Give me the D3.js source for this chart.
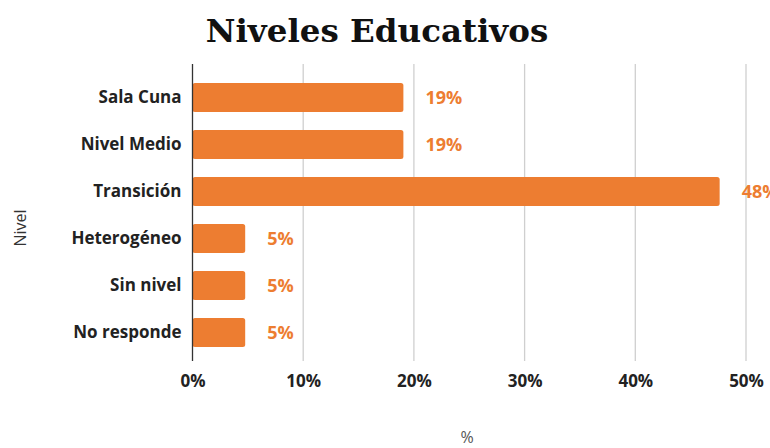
<!DOCTYPE html>
<html><head><meta charset="utf-8">
<script src="https://cdn.jsdelivr.net/npm/d3@7"></script>
<style>body{margin:0;background:#fff;}svg{display:block;}</style>
</head><body>
<svg id="chart" width="770" height="448"></svg>
<script>
const categories = ["Sala Cuna","Nivel Medio","Transición","Heterogéneo","Sin nivel","No responde"];
const values = [19.05, 19.05, 47.62, 4.76, 4.76, 4.76];
const tickValues = [0, 10, 20, 30, 40, 50];
const title = "Niveles Educativos";
const xTitle = "%";
const yTitle = "Nivel";

const svg = d3.select("#chart");
const x = d3.scaleLinear().domain([0, 50]).range([192.5, 746]);
const y = d3.scaleBand().domain(categories).range([74, 356]).paddingInner(0.38).paddingOuter(0.19);
const orange = "#ED7D31";
const font = "'Open Sans', 'Segoe UI', sans-serif";

// gridlines
svg.append("g").selectAll("line").data(tickValues.slice(1)).join("line")
  .attr("x1", d => x(d)).attr("x2", d => x(d))
  .attr("y1", 64).attr("y2", 361)
  .attr("stroke", "#cfcfcf").attr("stroke-width", 1.3);

// bars
svg.append("g").selectAll("rect").data(categories).join("rect")
  .attr("x", x(0))
  .attr("y", d => y(d))
  .attr("width", (d, i) => x(values[i]) - x(0))
  .attr("height", y.bandwidth())
  .attr("rx", 2.5)
  .attr("fill", orange);

// axis line
svg.append("line").attr("x1", x(0)).attr("x2", x(0)).attr("y1", 64).attr("y2", 361)
  .attr("stroke", "#333").attr("stroke-width", 1.3);

// value labels
svg.append("g").selectAll("text").data(categories).join("text")
  .attr("x", (d, i) => x(values[i]) + 22)
  .attr("y", d => y(d) + y.bandwidth() / 2)
  .attr("dy", "0.36em")
  .attr("font-family", font).attr("font-weight", 700).attr("font-size", 18)
  .attr("fill", orange)
  .text((d, i) => Math.round(values[i]) + "%");

// category labels
const yAxis = d3.axisLeft(y).tickSize(0).tickPadding(11);
const gy = svg.append("g").attr("transform", `translate(${x(0)},0)`).call(yAxis);
gy.select(".domain").remove();
gy.selectAll("text").attr("font-family", font).attr("font-weight", 700).attr("font-size", 17).attr("fill", "#222");

// x tick labels
const xAxis = d3.axisBottom(x).tickValues(tickValues).tickSize(0).tickPadding(0).tickFormat(d => d + "%");
const gx = svg.append("g").attr("transform", `translate(0,375)`).call(xAxis);
gx.select(".domain").remove();
gx.selectAll("text").attr("font-family", font).attr("font-weight", 700).attr("font-size", 17).attr("fill", "#222");

// title
svg.append("text").attr("x", 377).attr("y", 42).attr("text-anchor", "middle")
  .attr("font-family", "'DejaVu Serif', Georgia, serif").attr("font-weight", 700).attr("font-size", 32.5)
  .attr("fill", "#111").text(title);

// axis titles
svg.append("text").attr("x", 467).attr("y", 443).attr("text-anchor", "middle")
  .attr("font-family", font).attr("font-size", 16).attr("fill", "#555").text(xTitle);
svg.append("text").attr("transform", "translate(26,228) rotate(-90)").attr("text-anchor", "middle")
  .attr("font-family", font).attr("font-size", 16).attr("fill", "#333").text(yTitle);
</script>
</body></html>
